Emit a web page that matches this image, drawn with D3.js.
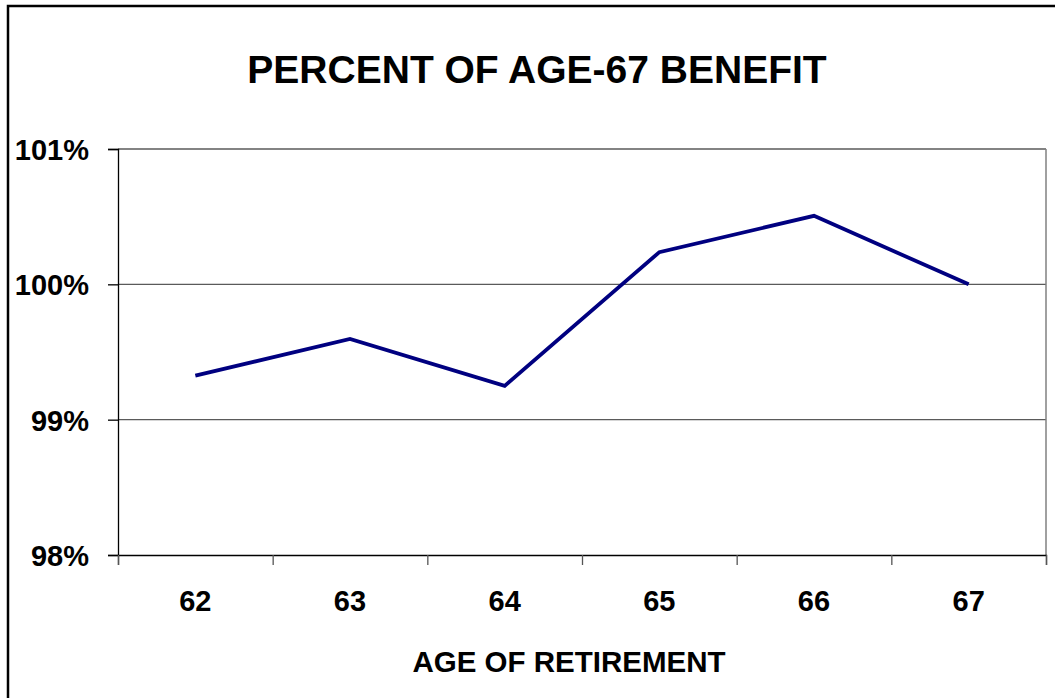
<!DOCTYPE html>
<html>
<head>
<meta charset="utf-8">
<script src="https://cdn.jsdelivr.net/npm/d3@7"></script>
<style>
  html, body { margin: 0; padding: 0; background: #fff; }
  svg { display: block; }
  text { font-family: "Liberation Sans", Arial, sans-serif; font-weight: bold; fill: #000; }
</style>
</head>
<body>
<svg id="chart" width="1055" height="698"></svg>
<script>
const categories = ["62", "63", "64", "65", "66", "67"];
const values = [99.325, 99.596, 99.25, 100.238, 100.506, 100.0];
const yTicks = [98, 99, 100, 101];
const titleText = "PERCENT OF AGE-67 BENEFIT";
const xTitleText = "AGE OF RETIREMENT";

const W = 1055, H = 698;
const plot = { left: 118, right: 1046, top: 149, bottom: 555 };

const svg = d3.select("#chart");

// outer border (extends beyond the visible frame on right/bottom)
svg.append("rect")
  .attr("x", 8).attr("y", 6)
  .attr("width", W + 20).attr("height", H + 20)
  .attr("fill", "none").attr("stroke", "#000").attr("stroke-width", 2.5);

const xIdx = d3.scaleLinear().domain([0, categories.length]).range([plot.left, plot.right]);
const y = d3.scaleLinear().domain([98, 101]).range([plot.bottom, plot.top]);

// gridlines
svg.append("g")
  .selectAll("line")
  .data(yTicks.filter(t => t !== 98))
  .join("line")
  .attr("x1", plot.left).attr("x2", plot.right)
  .attr("y1", d => y(d)).attr("y2", d => y(d))
  .attr("stroke", "#5a5a5a").attr("stroke-width", 1.3);

// right plot border
svg.append("line")
  .attr("x1", plot.right).attr("x2", plot.right)
  .attr("y1", plot.top).attr("y2", plot.bottom)
  .attr("stroke", "#808080").attr("stroke-width", 1.5);

// y axis
const yAxis = svg.append("g")
  .attr("transform", `translate(${plot.left},0)`)
  .call(d3.axisLeft(y).tickValues(yTicks).tickSize(10).tickPadding(19)
    .tickFormat(d => d + "%"));
yAxis.select(".domain").attr("stroke", "#000").attr("stroke-width", 1.3);
yAxis.selectAll(".tick line").attr("stroke", "#000").attr("stroke-width", 1.3);
yAxis.selectAll(".tick text")
  .style("font-size", "29px").style("font-weight", "bold")
  .style("font-family", "'Liberation Sans', Arial, sans-serif")
  .attr("fill", "#000").attr("dy", "0.36em");

// x axis (ticks at category boundaries)
const xAxis = svg.append("g")
  .attr("transform", `translate(0,${plot.bottom})`)
  .call(d3.axisBottom(xIdx).tickValues(d3.range(categories.length + 1)).tickSize(10).tickFormat(""));
xAxis.select(".domain").attr("stroke", "#000").attr("stroke-width", 1.3);
xAxis.selectAll(".tick line").attr("stroke", "#555").attr("stroke-width", 1.3);

// x labels
svg.append("g")
  .selectAll("text")
  .data(categories)
  .join("text")
  .attr("x", (d, i) => xIdx(i + 0.5))
  .attr("y", 611)
  .attr("text-anchor", "middle")
  .style("font-size", "29px")
  .text(d => d);

// line
const line = d3.line()
  .x((d, i) => xIdx(i + 0.5))
  .y(d => y(d));
svg.append("path")
  .datum(values)
  .attr("d", line)
  .attr("fill", "none")
  .attr("stroke", "#000080")
  .attr("stroke-width", 3.8)
  .attr("stroke-linejoin", "miter");

// titles
svg.append("text")
  .attr("x", 537).attr("y", 83)
  .attr("text-anchor", "middle")
  .style("font-size", "39px")
  .text(titleText);

svg.append("text")
  .attr("x", 569).attr("y", 672)
  .attr("text-anchor", "middle")
  .style("font-size", "29.5px")
  .text(xTitleText);
</script>
</body>
</html>
